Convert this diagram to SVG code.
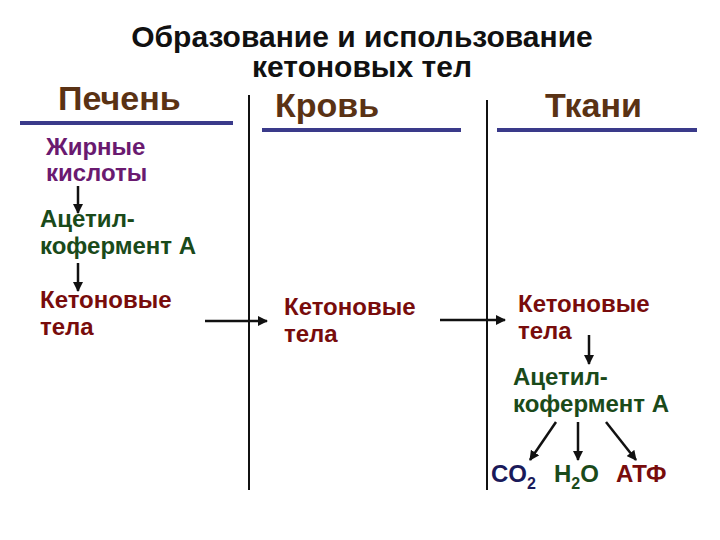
<svg xmlns="http://www.w3.org/2000/svg" width="720" height="540" viewBox="0 0 720 540">
<style>
text{font-family:"Liberation Sans",Arial,sans-serif;font-weight:bold}
.t{font-size:30px;fill:#111;text-anchor:middle}
.h{font-size:34px;fill:#5a3214}
.n{font-size:24px}
.p{fill:#6a1a70}.g{fill:#1a4a1a}.r{fill:#780c0c}.b{fill:#1a1a5a}
.u{stroke:#3a3a8a;stroke-width:4}
.v{stroke:#111;stroke-width:2}
.a{stroke:#111;stroke-width:2.5;fill:none;marker-end:url(#m)}
</style>
<defs><marker id="m" viewBox="0 0 10 10" refX="9" refY="5" markerWidth="4" markerHeight="4" orient="auto"><path d="M0,0L10,5L0,10z" fill="#111"/></marker></defs>
<g id="title"><text class="t" x="362" y="47">Образование и использование</text><text class="t" x="362" y="77">кетоновых тел</text></g>
<g id="headers">
<text class="h" x="58" y="110">Печень</text><line class="u" x1="20" y1="123" x2="233" y2="123"/>
<text class="h" x="275" y="117">Кровь</text><line class="u" x1="262" y1="130" x2="461" y2="130"/>
<text class="h" x="545" y="117">Ткани</text><line class="u" x1="497" y1="130" x2="697" y2="130"/>
<line class="v" x1="249" y1="95" x2="249" y2="490"/><line class="v" x1="487" y1="100" x2="487" y2="490"/>
</g>
<g id="n1"><text class="n p" x="46" y="155">Жирные</text><text class="n p" x="46" y="181">кислоты</text></g>
<g id="n2"><text class="n g" x="40" y="227">Ацетил-</text><text class="n g" x="40" y="254">кофермент А</text></g>
<g id="n3"><text class="n r" x="40" y="308">Кетоновые</text><text class="n r" x="40" y="335">тела</text></g>
<g id="n4"><text class="n r" x="284" y="315">Кетоновые</text><text class="n r" x="284" y="342">тела</text></g>
<g id="n5"><text class="n r" x="518" y="312">Кетоновые</text><text class="n r" x="518" y="339">тела</text></g>
<g id="n6"><text class="n g" x="513" y="385">Ацетил-</text><text class="n g" x="513" y="412">кофермент А</text></g>
<g id="n7"><text class="n b" x="491" y="482">CO<tspan font-size="16" dy="7">2</tspan></text></g>
<g id="n8"><text class="n g" x="554" y="482">H<tspan font-size="16" dy="7">2</tspan><tspan dy="-7">O</tspan></text></g>
<g id="n9"><text class="n r" x="616" y="482">АТФ</text></g>
<g id="connectors">
<line class="a" x1="78" y1="186" x2="78" y2="213"/>
<line class="a" x1="78" y1="263" x2="78" y2="291"/>
<line class="a" x1="205" y1="321" x2="267" y2="321"/>
<line class="a" x1="440" y1="320" x2="505" y2="320"/>
<line class="a" x1="589" y1="335" x2="589" y2="364"/>
<line class="a" x1="556" y1="422" x2="530" y2="460"/>
<line class="a" x1="578" y1="422" x2="578" y2="460"/>
<line class="a" x1="606" y1="422" x2="636" y2="460"/>
</g>
</svg>
